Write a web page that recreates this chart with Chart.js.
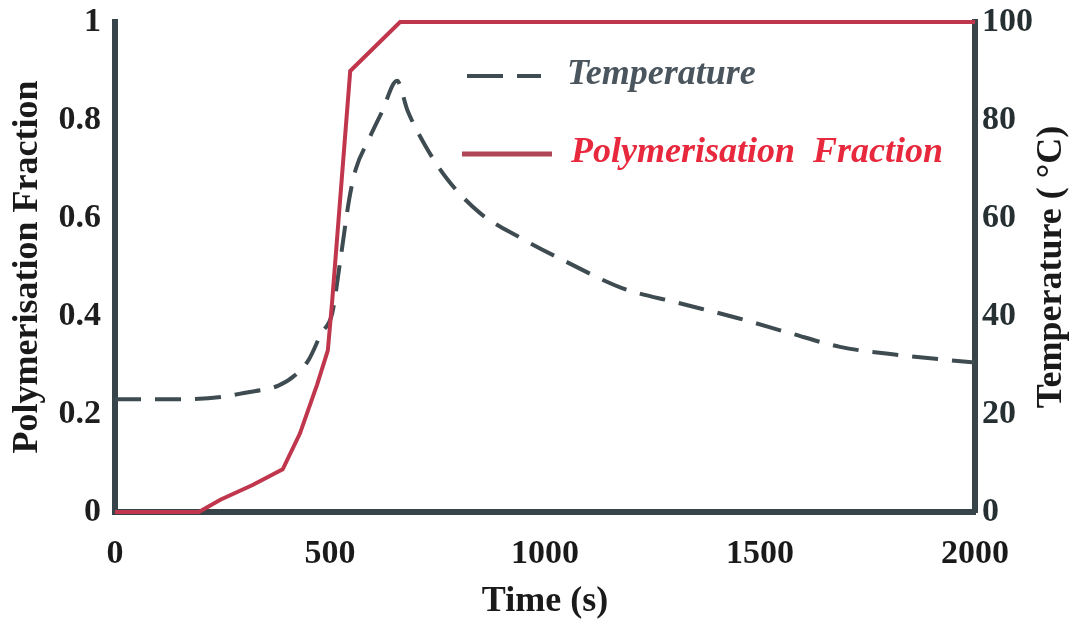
<!DOCTYPE html>
<html>
<head>
<meta charset="utf-8">
<title>Polymerisation Fraction and Temperature</title>
<script src="https://cdn.jsdelivr.net/npm/chart.js@4.4.1/dist/chart.umd.min.js"></script>
<style>
    body { margin: 0; background: #ffffff; }
    canvas { display: block; }
</style>
</head>
<body>
<canvas id="polyChart" width="1072" height="620"></canvas>
<script>
// time axis (s)
const timeTicks = [0, 500, 1000, 1500, 2000];
const fractionTicks = [0, 0.2, 0.4, 0.6, 0.8, 1];
const tempTicks = [0, 20, 40, 60, 80, 100];

// polymerisation fraction (left axis)
const polyTime = [0, 195, 245, 320, 390, 430, 470, 495, 505, 547, 663, 2000];
const polyFraction = [0, 0, 0.025, 0.055, 0.087, 0.16, 0.26, 0.33, 0.43, 0.9, 1, 1];

// temperature in degC (right axis)
const tempTime = [0, 150, 250, 300, 380, 420, 450, 480, 505, 525, 545, 560, 590, 620, 656, 680, 720, 772, 849, 942, 1051, 1179, 1309, 1447, 1570, 1686, 1826, 2000];
const tempValues = [23, 23, 23.5, 24.3, 25.8, 28, 31, 36.5, 40.5, 52, 64, 70, 76, 81.5, 88, 82, 75, 68, 61, 56, 51, 45.7, 42.7, 39.6, 36.5, 33.7, 32, 30.5];

const frameColor = '#37454a';
const tempColor = '#3e4b50';
const polyColor = '#c0364c';
const serif = "'Liberation Serif', 'Times New Roman', serif";

const toPoints = (xs, ys) => xs.map((x, i) => ({ x: x, y: ys[i] }));

const fixedTicks = (values) => (scale) => {
    scale.ticks = values.map(v => ({ value: v }));
};

const plainLabel = (value) => String(value);

// legend drawn inside the plot, two rows stacked; right title reads bottom-to-top
const insideLegend = {
    id: 'insideLegend',
    afterDraw(chart) {
        const ctx = chart.ctx;
        const area = chart.chartArea;
        const left = area.left;
        const top = area.top;
        ctx.save();
        ctx.lineCap = 'butt';

        ctx.strokeStyle = tempColor;
        ctx.lineWidth = 4;
        ctx.setLineDash([36, 14]);
        ctx.beginPath();
        ctx.moveTo(left + 352, top + 54);
        ctx.lineTo(left + 426, top + 54);
        ctx.stroke();

        ctx.setLineDash([]);
        ctx.strokeStyle = '#b04558';
        ctx.lineWidth = 5;
        ctx.beginPath();
        ctx.moveTo(left + 347, top + 132);
        ctx.lineTo(left + 437, top + 132);
        ctx.stroke();

        ctx.font = "italic bold 36px " + serif;
        ctx.textBaseline = 'middle';
        ctx.textAlign = 'left';
        ctx.fillStyle = '#4a555d';
        ctx.fillText('Temperature', left + 452, top + 53);
        ctx.fillStyle = '#e8283c';
        ctx.fillText('Polymerisation  Fraction', left + 456, top + 131);

        ctx.translate(chart.width - 20, (area.top + area.bottom) / 2);
        ctx.rotate(-Math.PI / 2);
        ctx.textAlign = 'center';
        ctx.font = "bold 36px " + serif;
        ctx.fillStyle = '#1a1a1a';
        ctx.fillText('Temperature ( °C)', 0, 0);
        ctx.restore();
    }
};

const drawChart = function () {
    const ctx = document.getElementById('polyChart').getContext('2d');
    new Chart(ctx, {
        type: 'line',
        data: {
            datasets: [
                {
                    label: 'Polymerisation Fraction',
                    data: toPoints(polyTime, polyFraction),
                    borderColor: polyColor,
                    borderWidth: 4,
                    pointRadius: 0,
                    tension: 0,
                    yAxisID: 'y',
                    clip: 6,
                    order: 1
                },
                {
                    label: 'Temperature',
                    data: toPoints(tempTime, tempValues),
                    borderColor: tempColor,
                    borderWidth: 4,
                    borderDash: [26, 14],
                    pointRadius: 0,
                    cubicInterpolationMode: 'monotone',
                    yAxisID: 'y1',
                    order: 2
                }
            ]
        },
        options: {
            responsive: false,
            animation: false,
            layout: { padding: { top: 22, left: 0, right: 0, bottom: 0 } },
            plugins: {
                legend: { display: false },
                tooltip: { enabled: false }
            },
            scales: {
                x: {
                    type: 'linear',
                    min: 0,
                    max: 2000,
                    afterBuildTicks: fixedTicks(timeTicks),
                    afterFit: (scale) => {
                        scale.height = 108;
                        scale.paddingLeft = 0;
                        scale.paddingRight = 0;
                    },
                    grid: { display: false, drawTicks: false, tickLength: 0 },
                    border: { display: true, width: 6, color: frameColor },
                    ticks: {
                        padding: 22,
                        maxRotation: 0,
                        callback: plainLabel,
                        color: '#1a1a1a',
                        font: { family: serif, size: 34, weight: 'bold' }
                    },
                    title: {
                        display: true,
                        text: 'Time (s)',
                        color: '#1a1a1a',
                        padding: { top: 0, bottom: 0 },
                        font: { family: serif, size: 36, weight: 'bold', lineHeight: 1 }
                    }
                },
                y: {
                    position: 'left',
                    min: 0,
                    max: 1,
                    afterBuildTicks: fixedTicks(fractionTicks),
                    afterFit: (scale) => {
                        scale.width = 115;
                        scale.paddingTop = 0;
                        scale.paddingBottom = 0;
                    },
                    grid: { display: false, drawTicks: false, tickLength: 0 },
                    border: { display: true, width: 6, color: frameColor },
                    ticks: {
                        padding: 14,
                        callback: plainLabel,
                        color: '#1e1e1e',
                        font: { family: serif, size: 34, weight: 'bold' }
                    },
                    title: {
                        display: true,
                        text: 'Polymerisation Fraction',
                        color: '#1a1a1a',
                        padding: { top: 10, bottom: 0 },
                        font: { family: serif, size: 36, weight: 'bold', lineHeight: 1 }
                    }
                },
                y1: {
                    position: 'right',
                    min: 0,
                    max: 100,
                    afterBuildTicks: fixedTicks(tempTicks),
                    afterFit: (scale) => {
                        scale.width = 97;
                        scale.paddingTop = 0;
                        scale.paddingBottom = 0;
                    },
                    grid: { display: false, drawTicks: false, tickLength: 0 },
                    border: { display: true, width: 6, color: frameColor },
                    ticks: {
                        padding: 7,
                        callback: plainLabel,
                        color: '#263033',
                        font: { family: serif, size: 34, weight: 'bold' }
                    },
                    title: { display: false }
                }
            }
        },
        plugins: [insideLegend]
    });
};

window.onload = (event) => {
    drawChart();
};
</script>
</body>
</html>
